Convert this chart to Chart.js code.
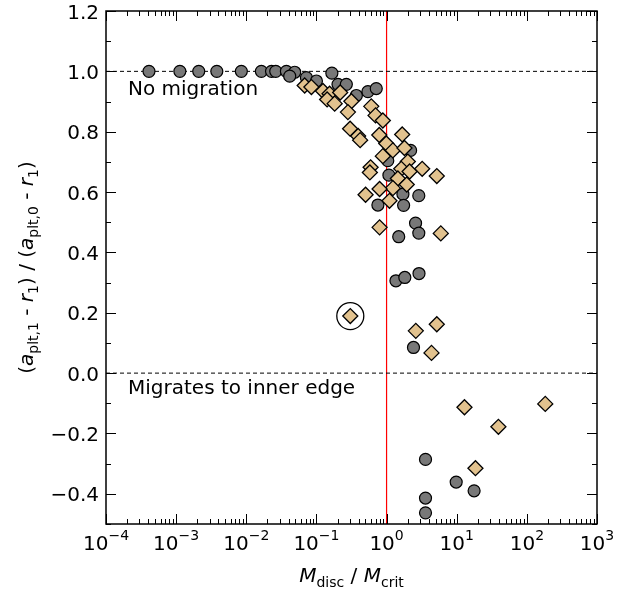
<!DOCTYPE html>
<html>
<head>
<meta charset="utf-8">
<script src="https://cdn.jsdelivr.net/npm/chart.js@4.4.1/dist/chart.umd.min.js"></script>
<style>
    body { margin: 0; background: #fff; }
    #wrap { width: 629px; height: 589px; }
</style>
</head>
<body>
<div id="wrap"><canvas id="js--chart" width="629" height="589"></canvas></div>
<script>
// grey circles
const circleMass = [4.1e-4, 1.13e-3, 2.1e-3, 3.8e-3, 8.5e-3, 0.0164, 0.0229, 0.0263, 0.0373, 0.049,
    0.166, 0.0416, 0.072, 0.100, 0.203, 0.267, 0.371, 0.542, 0.713, 2.20,
    1.04, 1.08, 1.71, 2.88, 0.752, 1.75, 2.59, 2.88, 1.49, 1.36,
    1.82, 2.90, 2.42, 3.59, 9.83, 17.7, 3.59, 3.59];
const circleRatio = [1.0, 1.0, 1.0, 1.0, 1.0, 1.0, 1.0, 1.0, 1.0, 0.997,
    0.994, 0.984, 0.979, 0.968, 0.957, 0.957, 0.920, 0.933, 0.943, 0.738,
    0.704, 0.656, 0.593, 0.588, 0.557, 0.556, 0.497, 0.464, 0.452, 0.306,
    0.317, 0.330, 0.085, -0.286, -0.361, -0.390, -0.414, -0.463];

// tan diamonds
const diamondMass = [0.068, 0.0848, 0.124, 0.154, 0.218, 0.142, 0.182, 0.315, 0.281, 0.605,
    0.697, 0.885, 0.302, 0.393, 0.420, 0.787, 0.99, 1.67, 1.23, 1.80,
    0.885, 2.01, 1.62, 0.592, 0.578, 3.22, 5.20, 1.45, 1.94, 1.23,
    0.795, 0.502, 1.10, 2.13, 0.795, 5.93, 0.304, 2.61, 5.20, 4.37,
    12.9, 183, 39.3, 18.5];
const diamondRatio = [0.953, 0.948, 0.935, 0.926, 0.930, 0.907, 0.893, 0.901, 0.865, 0.884,
    0.854, 0.837, 0.810, 0.786, 0.772, 0.789, 0.761, 0.791, 0.738, 0.746,
    0.719, 0.701, 0.677, 0.682, 0.665, 0.677, 0.653, 0.645, 0.625, 0.613,
    0.610, 0.591, 0.571, 0.668, 0.483, 0.463, 0.189, 0.140, 0.162, 0.067,
    -0.113, -0.102, -0.178, -0.315];

// the one marked with a ring
const ringMass = [0.304];
const ringRatio = [0.189];

const noMigration = 1.0;
const innerEdge = 0.0;
const critMass = 1;

const xTickPowers = [-4, -3, -2, -1, 0, 1, 2, 3];
const yTicks = [-0.4, -0.2, 0.0, 0.2, 0.4, 0.6, 0.8, 1.0, 1.2];

const FONT = "'DejaVu Sans', sans-serif";

function toPoints(xs, ys) {
    return xs.map((x, i) => ({x: x, y: ys[i]}));
}

// draws text pieces: n = normal, i = italic, b = subscript, p = superscript
function richWidth(ctx, parts, size) {
    let w = 0;
    parts.forEach(p => {
        ctx.font = partFont(p[1], size);
        w += ctx.measureText(p[0]).width;
    });
    return w;
}
function partFont(style, size) {
    if (style == 'i') return 'italic ' + size + 'px ' + FONT;
    if (style == 'b' || style == 'p') return (size * 0.7) + 'px ' + FONT;
    return size + 'px ' + FONT;
}
function drawRich(ctx, parts, x, y, size) {
    parts.forEach(p => {
        ctx.font = partFont(p[1], size);
        let dy = 0;
        if (p[1] == 'b') dy = size * 0.25;
        if (p[1] == 'p') dy = -size * 0.52;
        ctx.fillText(p[0], x, y + dy);
        x += ctx.measureText(p[0]).width;
    });
}

const axesPlugin = {
    id: 'axesPlugin',
    afterDraw(chart) {
        const ctx = chart.ctx;
        const a = chart.chartArea;
        const xs = chart.scales.x;
        const ys = chart.scales.y;
        ctx.save();
        ctx.strokeStyle = '#000';
        ctx.fillStyle = '#000';

        // frame
        ctx.lineWidth = 1.5;
        ctx.strokeRect(a.left, a.top, a.right - a.left, a.bottom - a.top);

        // ticks, pointing in
        ctx.lineWidth = 1;
        function xTick(px, len) {
            ctx.beginPath();
            ctx.moveTo(px, a.bottom); ctx.lineTo(px, a.bottom - len);
            ctx.moveTo(px, a.top); ctx.lineTo(px, a.top + len);
            ctx.stroke();
        }
        function yTick(py, len) {
            ctx.beginPath();
            ctx.moveTo(a.left, py); ctx.lineTo(a.left + len, py);
            ctx.moveTo(a.right, py); ctx.lineTo(a.right - len, py);
            ctx.stroke();
        }
        xTickPowers.forEach(p => {
            xTick(Math.round(xs.getPixelForValue(Math.pow(10, p))) + 0.5, 10);
            if (p < xTickPowers[xTickPowers.length - 1]) {
                for (let m = 2; m <= 9; m++) {
                    xTick(Math.round(xs.getPixelForValue(m * Math.pow(10, p))) + 0.5, 5);
                }
            }
        });
        yTicks.forEach(v => {
            yTick(Math.round(ys.getPixelForValue(v)) + 0.5, 10);
            yTick(Math.round(ys.getPixelForValue(v - 0.1)) + 0.5, 5);
        });

        // tick labels
        const size = 20;
        xTickPowers.forEach(p => {
            const parts = [['10', 'n'], [(p < 0 ? '\u2212' : '') + Math.abs(p), 'p']];
            const w = richWidth(ctx, parts, size);
            ctx.textAlign = 'left';
            ctx.textBaseline = 'alphabetic';
            drawRich(ctx, parts, xs.getPixelForValue(Math.pow(10, p)) - w / 2, a.bottom + 26, size);
        });
        ctx.font = size + 'px ' + FONT;
        ctx.textAlign = 'right';
        yTicks.forEach(v => {
            const txt = (v < 0 ? '\u2212' : '') + Math.abs(v).toFixed(1);
            ctx.fillText(txt, a.left - 7, ys.getPixelForValue(v) + 7.5);
        });

        // notes in the plot
        ctx.textAlign = 'left';
        ctx.fillText('No migration', a.left + 22, ys.getPixelForValue(noMigration) + 24);
        ctx.fillText('Migrates to inner edge', a.left + 22, ys.getPixelForValue(innerEdge) + 21);

        // x axis title
        const xParts = [['M', 'i'], ['disc', 'b'], [' / ', 'n'], ['M', 'i'], ['crit', 'b']];
        const xw = richWidth(ctx, xParts, size);
        drawRich(ctx, xParts, (a.left + a.right) / 2 - xw / 2, a.bottom + 58, size);

        // y axis title
        const yParts = [['(', 'n'], ['a', 'i'], ['plt,1', 'b'], [' - ', 'n'], ['r', 'i'], ['1', 'b'],
            [') / (', 'n'], ['a', 'i'], ['plt,0', 'b'], [' - ', 'n'], ['r', 'i'], ['1', 'b'], [')', 'n']];
        const yw = richWidth(ctx, yParts, size);
        ctx.translate(33, (a.top + a.bottom) / 2);
        ctx.rotate(-Math.PI / 2);
        drawRich(ctx, yParts, -yw / 2, 0, size);
        ctx.restore();
    }
};

const ctx = document.getElementById('js--chart');

new Chart(ctx, {
    type: 'scatter',
    data: {
        datasets: [
            {
                label: 'ring',
                data: toPoints(ringMass, ringRatio),
                pointStyle: 'circle',
                pointRadius: 13.5,
                backgroundColor: 'rgba(0,0,0,0)',
                borderColor: '#000',
                borderWidth: 1.3,
                order: 0
            },
            {
                label: 'diamonds',
                data: toPoints(diamondMass, diamondRatio),
                pointStyle: 'rectRot',
                pointRadius: 7.5,
                backgroundColor: '#e2c28e',
                borderColor: '#000',
                borderWidth: 1.3,
                order: 1
            },
            {
                label: 'circles',
                data: toPoints(circleMass, circleRatio),
                pointStyle: 'circle',
                pointRadius: 6,
                backgroundColor: '#787878',
                borderColor: '#000',
                borderWidth: 1.2,
                order: 2
            },
            {
                label: 'no migration',
                data: [{x: 1e-4, y: noMigration}, {x: 1e3, y: noMigration}],
                showLine: true,
                pointRadius: 0,
                borderColor: '#000',
                borderWidth: 1,
                borderDash: [4, 3],
                order: 3
            },
            {
                label: 'inner edge',
                data: [{x: 1e-4, y: innerEdge}, {x: 1e3, y: innerEdge}],
                showLine: true,
                pointRadius: 0,
                borderColor: '#000',
                borderWidth: 1,
                borderDash: [4, 3],
                order: 3
            },
            {
                label: 'critical',
                data: [{x: critMass, y: -0.5}, {x: critMass, y: 1.2}],
                showLine: true,
                pointRadius: 0,
                borderColor: '#ff0000',
                borderWidth: 1.2,
                order: 3
            }
        ]
    },
    options: {
        responsive: false,
        animation: false,
        devicePixelRatio: 1,
        layout: {
            autoPadding: false,
            padding: {left: 106, right: 32, top: 11, bottom: 65}
        },
        plugins: {
            legend: {display: false},
            tooltip: {enabled: false}
        },
        scales: {
            x: {
                type: 'logarithmic',
                min: 1e-4,
                max: 1e3,
                ticks: {display: false},
                grid: {display: false, drawTicks: false},
                border: {display: false}
            },
            y: {
                type: 'linear',
                min: -0.5,
                max: 1.2,
                ticks: {display: false},
                grid: {display: false, drawTicks: false},
                border: {display: false}
            }
        }
    },
    plugins: [axesPlugin]
});
</script>
</body>
</html>
